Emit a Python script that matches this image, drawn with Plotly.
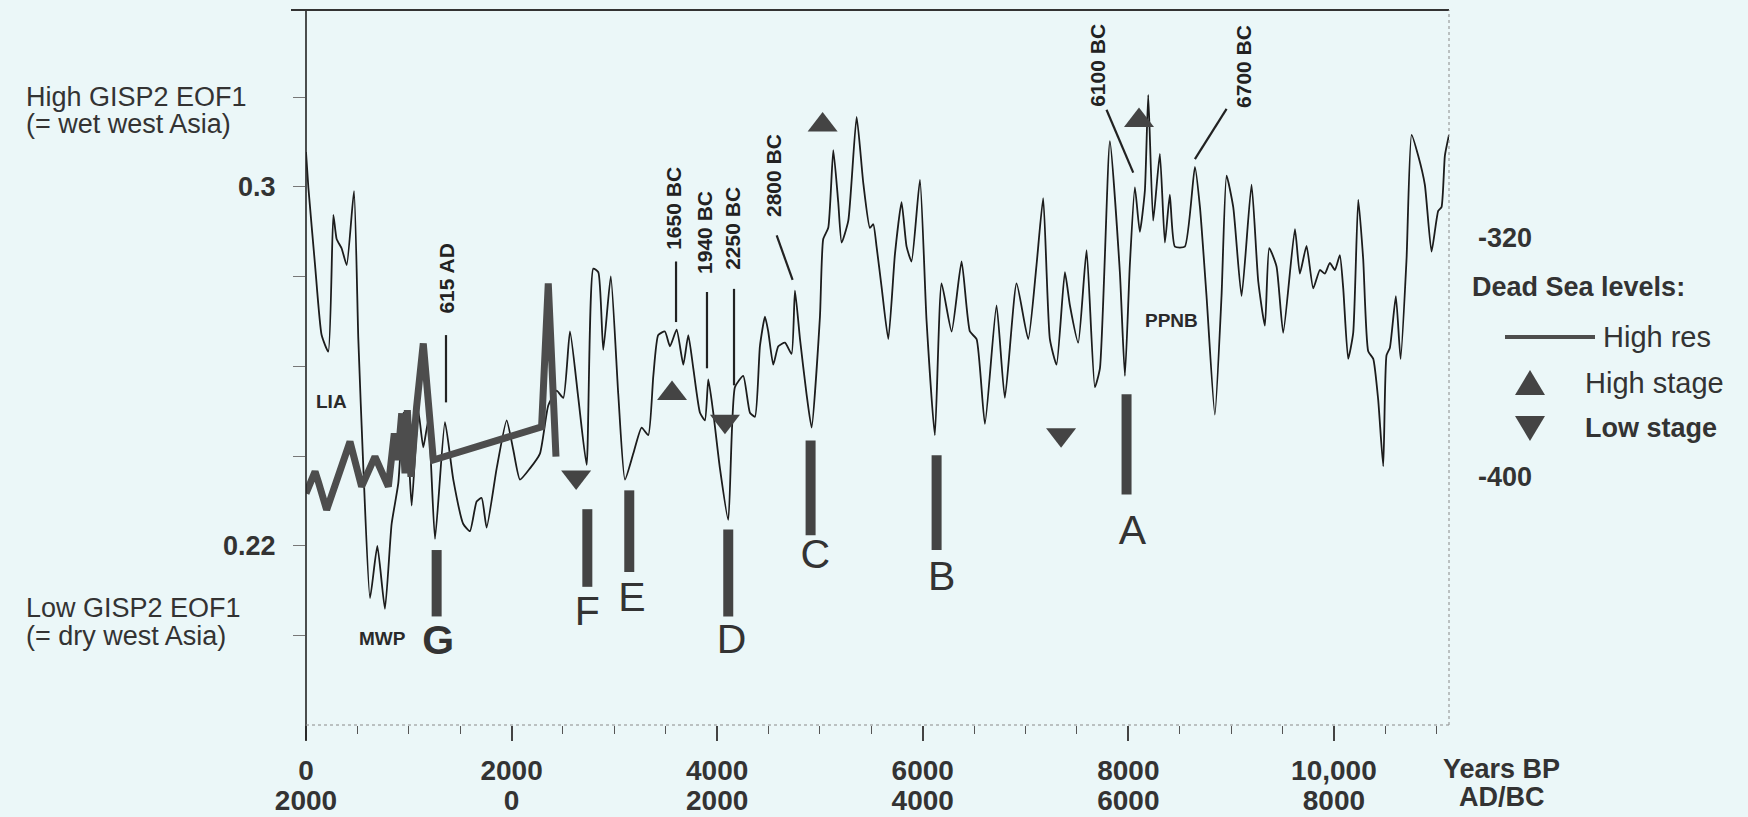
import plotly.graph_objects as go

# ---------------- data ----------------
# GISP2 EOF1 record (years BP, EOF1 value)
gisp_year = [0, 23, 88, 152, 217, 266, 298, 347, 396, 467, 509, 558, 623, 694, 768, 833, 898, 947, 995,
             1028, 1093, 1141, 1190, 1255, 1352, 1433, 1530, 1595, 1660, 1709, 1757, 1855, 1952, 2017,
             2082, 2179, 2276, 2357, 2438, 2503, 2568, 2649, 2730, 2795, 2844, 2892, 2965, 3038, 3103,
             3184, 3265, 3330, 3379, 3427, 3492, 3541, 3606, 3671, 3719, 3768, 3833, 3881, 3914, 3962,
             4027, 4108, 4173, 4254, 4319, 4368, 4416, 4465, 4497, 4546, 4595, 4660, 4724, 4757, 4806,
             4870, 4919, 5000, 5032, 5081, 5130, 5178, 5211, 5276, 5357, 5422, 5486, 5519, 5551, 5600,
             5665, 5730, 5794, 5843, 5891, 5973, 6037, 6118, 6183, 6281, 6378, 6459, 6524, 6605, 6718,
             6799, 6913, 7026, 7107, 7172, 7237, 7302, 7383, 7432, 7513, 7594, 7675, 7724, 7821, 7918,
             7967, 8015, 8064, 8112, 8161, 8194, 8242, 8307, 8356, 8404, 8453, 8550, 8648, 8697, 8761,
             8842, 8907, 8956, 9021, 9102, 9199, 9264, 9329, 9371, 9442, 9507, 9621, 9669, 9734, 9799,
             9864, 9912, 9961, 10010, 10058, 10091, 10139, 10188, 10237, 10285, 10334, 10383, 10431,
             10480, 10512, 10545, 10603, 10649, 10707, 10756, 10820, 10885, 10950, 11015, 11047, 11080,
             11120]
gisp_val = [0.3078, 0.2999, 0.2826, 0.2670, 0.2633, 0.2938, 0.2884, 0.2863, 0.2826, 0.2991, 0.2661,
            0.2373, 0.2084, 0.2200, 0.2060, 0.2249, 0.2340, 0.2497, 0.2414, 0.2290, 0.2500, 0.2420,
            0.2480, 0.2216, 0.2476, 0.2348, 0.2249, 0.2233, 0.2299, 0.2307, 0.2241, 0.2373, 0.2480,
            0.2414, 0.2348, 0.2373, 0.2406, 0.2513, 0.2546, 0.2530, 0.2678, 0.2530, 0.2381, 0.2818,
            0.2810, 0.2637, 0.2801, 0.2538, 0.2348, 0.2406, 0.2464, 0.2447, 0.2579, 0.2670, 0.2678,
            0.2645, 0.2682, 0.2604, 0.2670, 0.2596, 0.2497, 0.2480, 0.2571, 0.2497, 0.2373, 0.2258,
            0.2554, 0.2579, 0.2497, 0.2488, 0.2645, 0.2711, 0.2678, 0.2604, 0.2645, 0.2653, 0.2628,
            0.2769, 0.2661, 0.2538, 0.2464, 0.2711, 0.2884, 0.2909, 0.3082, 0.2966, 0.2876, 0.2925,
            0.3156, 0.3008, 0.2909, 0.2917, 0.2867, 0.2777, 0.2661, 0.2851, 0.2966, 0.2867, 0.2834,
            0.3016, 0.2703, 0.2447, 0.2785, 0.2678, 0.2834, 0.2678, 0.2661, 0.2472, 0.2736, 0.2530,
            0.2785, 0.2661, 0.2826, 0.2975, 0.2661, 0.2604, 0.2810, 0.2736, 0.2653, 0.2859, 0.2554,
            0.2596, 0.3102, 0.2810, 0.2579, 0.2826, 0.2999, 0.2900, 0.2991, 0.3205, 0.2925, 0.3074,
            0.2876, 0.2983, 0.2867, 0.2867, 0.3045, 0.2955, 0.2757, 0.2493, 0.2757, 0.3025, 0.2955,
            0.2757, 0.3005, 0.2790, 0.2691, 0.2864, 0.2823, 0.2675, 0.2906, 0.2807, 0.2869, 0.2774,
            0.2815, 0.2807, 0.2831, 0.2815, 0.2848, 0.2774, 0.2617, 0.2675, 0.2972, 0.2840, 0.2634,
            0.2617, 0.2526, 0.2378, 0.2625, 0.2642, 0.2757, 0.2617, 0.2840, 0.3116, 0.3070, 0.3005,
            0.2856, 0.2947, 0.2955, 0.3070, 0.3116]

# Dead Sea high-resolution levels (years BP, metres)
ds_year = [0, 88, 120, 201, 428, 541, 671, 801, 859, 892, 931, 963, 986, 1021, 1076, 1141, 1239,
           2292, 2357, 2432]
ds_level = [-405.5, -398.2, -401.6, -411.0, -388.2, -403.2, -393.2, -403.2, -385.4, -394.3, -378.7,
            -398.8, -377.6, -399.9, -376.5, -355.3, -394.3, -383.2, -335.2, -393.2]

# Dead Sea high / low stages
high_year = [3561, 5026, 8104]
high_val = [0.2540, 0.3138, 0.3148]
low_year = [2628, 4076, 7346]
low_val = [0.2354, 0.2478, 0.2448]

# Dry events A-G
event_name = ["A", "B", "C", "D", "E", "F", "G"]
event_year = [7983, 6135, 4909, 4108, 3145, 2737, 1271]
event_top = [0.2538, 0.2402, 0.2435, 0.2237, 0.2324, 0.2282, 0.2191]
event_bottom = [0.2315, 0.2191, 0.2224, 0.2043, 0.2142, 0.2109, 0.2043]
event_label_year = [8040, 6185, 4955, 4140, 3172, 2737, 1285]
event_label_val = [0.2228, 0.2125, 0.2173, 0.1984, 0.2077, 0.2047, 0.1982]

# Dated markers
mark_text = ["615 AD", "1650 BC", "1940 BC", "2250 BC", "2800 BC", "6100 BC", "6700 BC"]
mark_x0 = [1362, 3600, 3901, 4164, 4579, 7788, 8956]
mark_y0 = [0.2670, 0.2834, 0.2766, 0.2773, 0.2892, 0.3172, 0.3174]
mark_x1 = [1362, 3600, 3901, 4164, 4734, 8048, 8648]
mark_y1 = [0.2520, 0.2699, 0.2596, 0.2558, 0.2793, 0.3032, 0.3062]
mark_label_x = [1368, 3568, 3878, 4150, 4546, 7704, 9118]
mark_label_y = [0.2795, 0.2953, 0.2899, 0.2908, 0.3025, 0.3272, 0.3268]

period_text = ["LIA", "MWP", "PPNB"]
period_x = [250, 740, 8425]
period_y = [0.2522, 0.1994, 0.2703]

# axes
x_tickvals = [0, 2000, 4000, 6000, 8000, 10000]
bp_labels = ["0", "2000", "4000", "6000", "8000", "10,000"]
adbc_labels = ["2000", "0", "2000", "4000", "6000", "8000"]
y_tickvals = [0.20, 0.22, 0.24, 0.26, 0.28, 0.30, 0.32]
y_ticktext = ["", "0.22", "", "", "", "0.3", ""]
ds_tickvals = [-320, -400]
ds_ticktext = ["-320", "-400"]

# ---------------- figure ----------------
BG = "#ebf7f8"
INK = "#333333"
FONT = "Liberation Sans, Arial, sans-serif"
W, H = 1748, 817
ML, MR, MT, MB = 306, 299, 10, 92
PW, PH = W - ML - MR, H - MT - MB


def px(xp):
    return (xp - ML) / PW


def py(yp):
    return (H - MB - yp) / PH


fig = go.Figure()

fig.add_trace(go.Scatter(x=gisp_year, y=gisp_val, mode="lines",
                         line=dict(color="#1c1c1c", width=1.8, shape="spline", smoothing=0.5),
                         hoverinfo="skip"))

fig.add_trace(go.Scatter(x=ds_year, y=ds_level, yaxis="y2", mode="lines",
                         line=dict(color="#4d4d4d", width=7), hoverinfo="skip"))

bx, by = [], []
for xx, t, b in zip(event_year, event_top, event_bottom):
    bx += [xx, xx, None]
    by += [t, b, None]
fig.add_trace(go.Scatter(x=bx, y=by, xaxis="x2", mode="lines",
                         line=dict(color="#444444", width=10), hoverinfo="skip"))

fig.add_trace(go.Scatter(x=event_label_year, y=event_label_val, mode="text",
                         text=[("<b>%s</b>" % n) if n == "G" else n for n in event_name],
                         textfont=dict(size=41, color=INK, family=FONT), hoverinfo="skip"))

fig.add_trace(go.Scatter(x=high_year, y=high_val, mode="markers",
                         marker=dict(symbol="triangle-up", size=26, color="#444444"), hoverinfo="skip"))
fig.add_trace(go.Scatter(x=low_year, y=low_val, mode="markers",
                         marker=dict(symbol="triangle-down", size=26, color="#444444"), hoverinfo="skip"))

lx, ly = [], []
for a, b, c, d in zip(mark_x0, mark_y0, mark_x1, mark_y1):
    lx += [a, c, None]
    ly += [b, d, None]
fig.add_trace(go.Scatter(x=lx, y=ly, mode="lines", line=dict(color="#222222", width=2.2),
                         hoverinfo="skip"))

annotations = []
for t, xx, yy in zip(mark_text, mark_label_x, mark_label_y):
    annotations.append(dict(x=xx, y=yy, xref="x", yref="y", text=t, showarrow=False, textangle=-90,
                            xanchor="center", yanchor="middle",
                            font=dict(size=21, color="#222222", family=FONT, weight="bold")))
for t, xx, yy in zip(period_text, period_x, period_y):
    annotations.append(dict(x=xx, y=yy, xref="x", yref="y", text=t, showarrow=False,
                            xanchor="center", yanchor="middle",
                            font=dict(size=19, color="#2a2a2a", family=FONT, weight="bold")))

# left side descriptions
annotations += [
    dict(x=px(24), y=0.3200, xref="paper", yref="y", text="High GISP2 EOF1", xanchor="left",
         yanchor="middle", showarrow=False, font=dict(size=27, color=INK, family=FONT)),
    dict(x=px(24), y=0.3140, xref="paper", yref="y", text="(= wet west Asia)", xanchor="left",
         yanchor="middle", showarrow=False, font=dict(size=27, color=INK, family=FONT)),
    dict(x=px(24), y=0.2062, xref="paper", yref="y", text="Low GISP2 EOF1", xanchor="left",
         yanchor="middle", showarrow=False, font=dict(size=27, color=INK, family=FONT)),
    dict(x=px(24), y=0.2000, xref="paper", yref="y", text="(= dry west Asia)", xanchor="left",
         yanchor="middle", showarrow=False, font=dict(size=27, color=INK, family=FONT)),
]
# right legend and axis caption
annotations += [
    dict(x=px(1470), y=py(287), xref="paper", yref="paper", text="Dead Sea levels:", xanchor="left",
         yanchor="middle", showarrow=False, font=dict(size=27, color=INK, family=FONT, weight="bold")),
    dict(x=px(1601), y=py(337), xref="paper", yref="paper", text="High res", xanchor="left",
         yanchor="middle", showarrow=False, font=dict(size=29, color=INK, family=FONT)),
    dict(x=px(1583), y=py(383), xref="paper", yref="paper", text="High stage", xanchor="left",
         yanchor="middle", showarrow=False, font=dict(size=29, color=INK, family=FONT)),
    dict(x=px(1583), y=py(428), xref="paper", yref="paper", text="Low stage", xanchor="left",
         yanchor="middle", showarrow=False, font=dict(size=27, color=INK, family=FONT, weight="bold")),
    dict(x=px(1502), y=py(769), xref="paper", yref="paper", text="Years BP", xanchor="center",
         yanchor="middle", showarrow=False, font=dict(size=27, color=INK, family=FONT, weight="bold")),
    dict(x=px(1502), y=py(797), xref="paper", yref="paper", text="AD/BC", xanchor="center",
         yanchor="middle", showarrow=False, font=dict(size=27, color=INK, family=FONT, weight="bold")),
]

shapes = [
    # left axis
    dict(type="line", xref="paper", yref="paper", x0=0, x1=0, y0=py(740), y1=1,
         line=dict(color="#222222", width=1.6)),
    # top border
    dict(type="line", xref="paper", yref="paper", x0=px(291), x1=1, y0=1, y1=1,
         line=dict(color="#333333", width=2)),
    # right border
    dict(type="line", xref="paper", yref="paper", x0=1, x1=1, y0=0, y1=1,
         line=dict(color="#8a8a8a", width=1, dash="dot")),
    # bottom axis
    dict(type="line", xref="paper", yref="paper", x0=0, x1=1, y0=0, y1=0,
         line=dict(color="#8a8a8a", width=1, dash="dot")),
    # legend line sample
    dict(type="line", xref="paper", yref="paper", x0=px(1505), x1=px(1595), y0=py(337), y1=py(337),
         line=dict(color="#4d4d4d", width=4)),
    # legend triangles
    dict(type="path", xref="paper", yref="paper",
         path="M %f %f L %f %f L %f %f Z" % (px(1515), py(395), px(1545), py(395), px(1530), py(370)),
         fillcolor="#444444", line=dict(width=0)),
    dict(type="path", xref="paper", yref="paper",
         path="M %f %f L %f %f L %f %f Z" % (px(1515), py(416), px(1545), py(416), px(1530), py(441)),
         fillcolor="#444444", line=dict(width=0)),
]

tickfont = dict(size=28, color=INK, family=FONT, weight="bold")
fig.update_layout(
    width=W, height=H, margin=dict(l=ML, r=MR, t=MT, b=MB, autoexpand=False),
    paper_bgcolor=BG, plot_bgcolor=BG, showlegend=False,
    font=dict(family=FONT, color=INK),
    xaxis=dict(range=[0, 11120], tickmode="array", tickvals=x_tickvals, ticktext=bp_labels,
               ticks="outside", ticklen=15, tickwidth=1.5, tickcolor="#444444",
               minor=dict(ticks="outside", dtick=500, tick0=0, ticklen=8, tickwidth=1.2,
                          tickcolor="#555555", showgrid=False),
               showline=False, showgrid=False, zeroline=False, tickfont=tickfont,
               ticklabelstandoff=5, automargin=False),
    xaxis2=dict(range=[0, 11120], overlaying="x", anchor="y", side="bottom", tickmode="array",
                tickvals=x_tickvals, ticktext=adbc_labels, ticks="outside", ticklen=15,
                tickcolor="rgba(0,0,0,0)", showline=False, showgrid=False, zeroline=False,
                tickfont=tickfont, ticklabelstandoff=35, automargin=False),
    yaxis=dict(range=[0.18011, 0.33944], tickmode="array", tickvals=y_tickvals, ticktext=y_ticktext,
               ticks="outside", ticklen=12, tickwidth=1, tickcolor="#777777",
               showline=False, showgrid=False, zeroline=False, automargin=False,
               tickfont=dict(size=27, color=INK, family=FONT, weight="bold"), ticklabelstandoff=12),
    yaxis2=dict(range=[-483.01, -243.68], overlaying="y", side="right", anchor="x",
                tickmode="array", tickvals=ds_tickvals, ticktext=ds_ticktext, ticks="",
                showline=False, showgrid=False, zeroline=False, automargin=False,
                tickfont=dict(size=27, color=INK, family=FONT, weight="bold"), ticklabelstandoff=28),
    annotations=annotations, shapes=shapes,
)

fig.write_html("out.html")
